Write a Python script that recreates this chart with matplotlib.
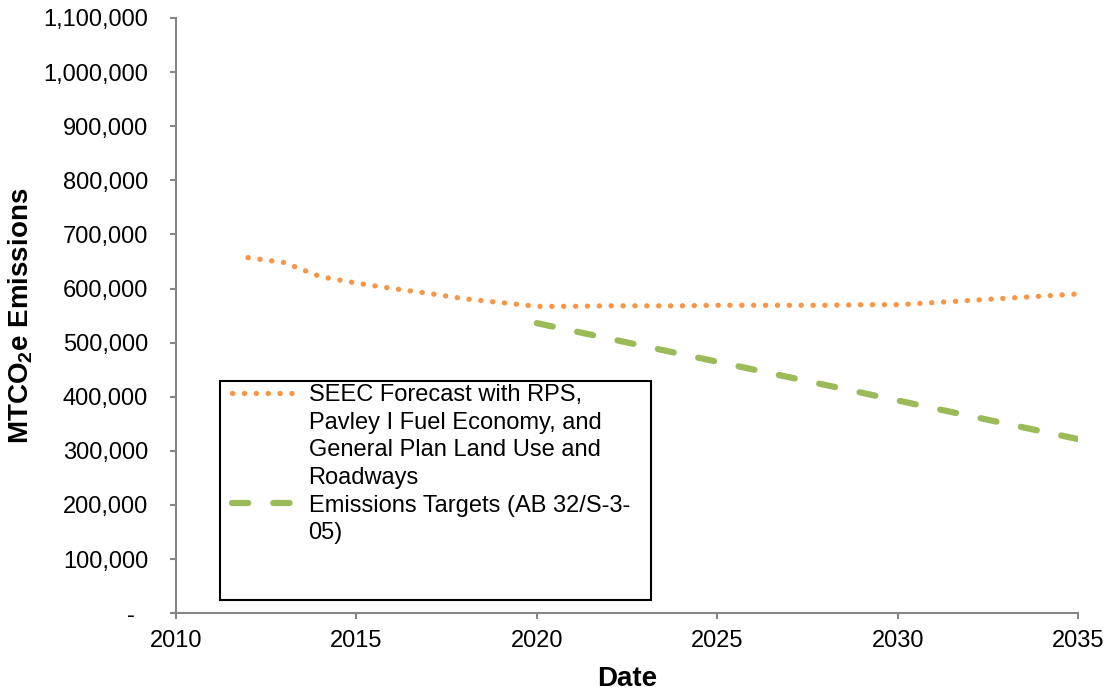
import matplotlib
matplotlib.use('Agg')
import matplotlib.pyplot as plt
from matplotlib.lines import Line2D
from matplotlib.patches import Rectangle
from matplotlib.ticker import FuncFormatter

plt.rcParams['font.family'] = ['Liberation Sans', 'DejaVu Sans']
plt.rcParams['mathtext.fontset'] = 'custom'
plt.rcParams['mathtext.bf'] = 'Liberation Sans:bold'
plt.rcParams['mathtext.rm'] = 'Liberation Sans'

# forecast years and emissions (MTCO2e)
forecast_years = [2012, 2013, 2014, 2015, 2016, 2017, 2018, 2019, 2020, 2021, 2022, 2023,
                  2024, 2025, 2026, 2027, 2028, 2029, 2030, 2031, 2032, 2033, 2034, 2035]
forecast_vals = [657000, 648000, 622000, 610000, 600000, 591000, 581000, 574000, 567000,
                 567000, 568000, 568000, 568000, 569000, 569000, 569000, 569000, 570000,
                 570000, 574000, 578000, 582000, 586000, 590000]

# AB 32 / S-3-05 target path
target_years = [2020, 2021, 2022, 2023, 2024, 2025, 2026, 2027, 2028, 2029, 2030, 2031,
                2032, 2033, 2034, 2035]
target_vals = [536000, 521700, 507400, 493100, 478800, 464500, 450200, 435900, 421600,
               407300, 393000, 378700, 364400, 350100, 335800, 321500]

# legend text, one entry per wrapped line
forecast_label = ['SEEC Forecast with RPS,', 'Pavley I Fuel Economy, and',
                  'General Plan Land Use and', 'Roadways']
target_label = ['Emissions Targets (AB 32/S-3-', '05)']

fig = plt.figure(figsize=(11.06, 6.92), dpi=100)
ax = fig.add_axes([0.159, 0.114, 0.816, 0.86])

l1, = ax.plot(forecast_years, forecast_vals, color='#F79646', lw=3.8,
              linestyle=(0, (0.05, 2.2)), dash_capstyle='round')
l2, = ax.plot(target_years, target_vals, color='#9BBB59', lw=4.5,
              linestyle=(0, (2.6, 4.0)), dash_capstyle='round')

ax.set_xlim(2010, 2035)
ax.set_ylim(0, 1100000)
ax.set_xticks(range(2010, 2036, 5))
ax.set_yticks(range(0, 1100001, 100000))
ax.yaxis.set_major_formatter(FuncFormatter(lambda v, p: '-  ' if v == 0 else f'{int(v):,}'))

for s in ['top', 'right']:
    ax.spines[s].set_visible(False)
for s in ['left', 'bottom']:
    ax.spines[s].set_color('#868686')
    ax.spines[s].set_linewidth(1.5)
ax.tick_params(direction='out', length=4, width=1.5, color='#868686',
               labelsize=17, labelcolor='black')
ax.tick_params(axis='y', pad=16)
ax.tick_params(axis='x', pad=8)

ax.set_xlabel('Date', fontsize=20, fontweight='bold', labelpad=10)
ax.set_ylabel('MTCO$\\mathbf{_2}$e Emissions', fontsize=20, fontweight='bold', labelpad=6)

# legend frame drawn separately so it can be taller than its entries
ax.add_patch(Rectangle((0.0488, 0.022), 0.478, 0.368, transform=ax.transAxes,
                       fill=False, edgecolor='black', lw=1.5, zorder=5))
blank = Line2D([], [], linestyle='none')
handles = [l1] + [blank] * (len(forecast_label) - 1) + [l2] + [blank] * (len(target_label) - 1)
ax.legend(handles, forecast_label + target_label, loc='upper left',
          bbox_to_anchor=(0.062, 0.385), frameon=False, fontsize=17,
          handlelength=2.7, handletextpad=0.55, labelspacing=0.24,
          borderaxespad=0, borderpad=0)

fig.savefig('out.png', dpi=100)
